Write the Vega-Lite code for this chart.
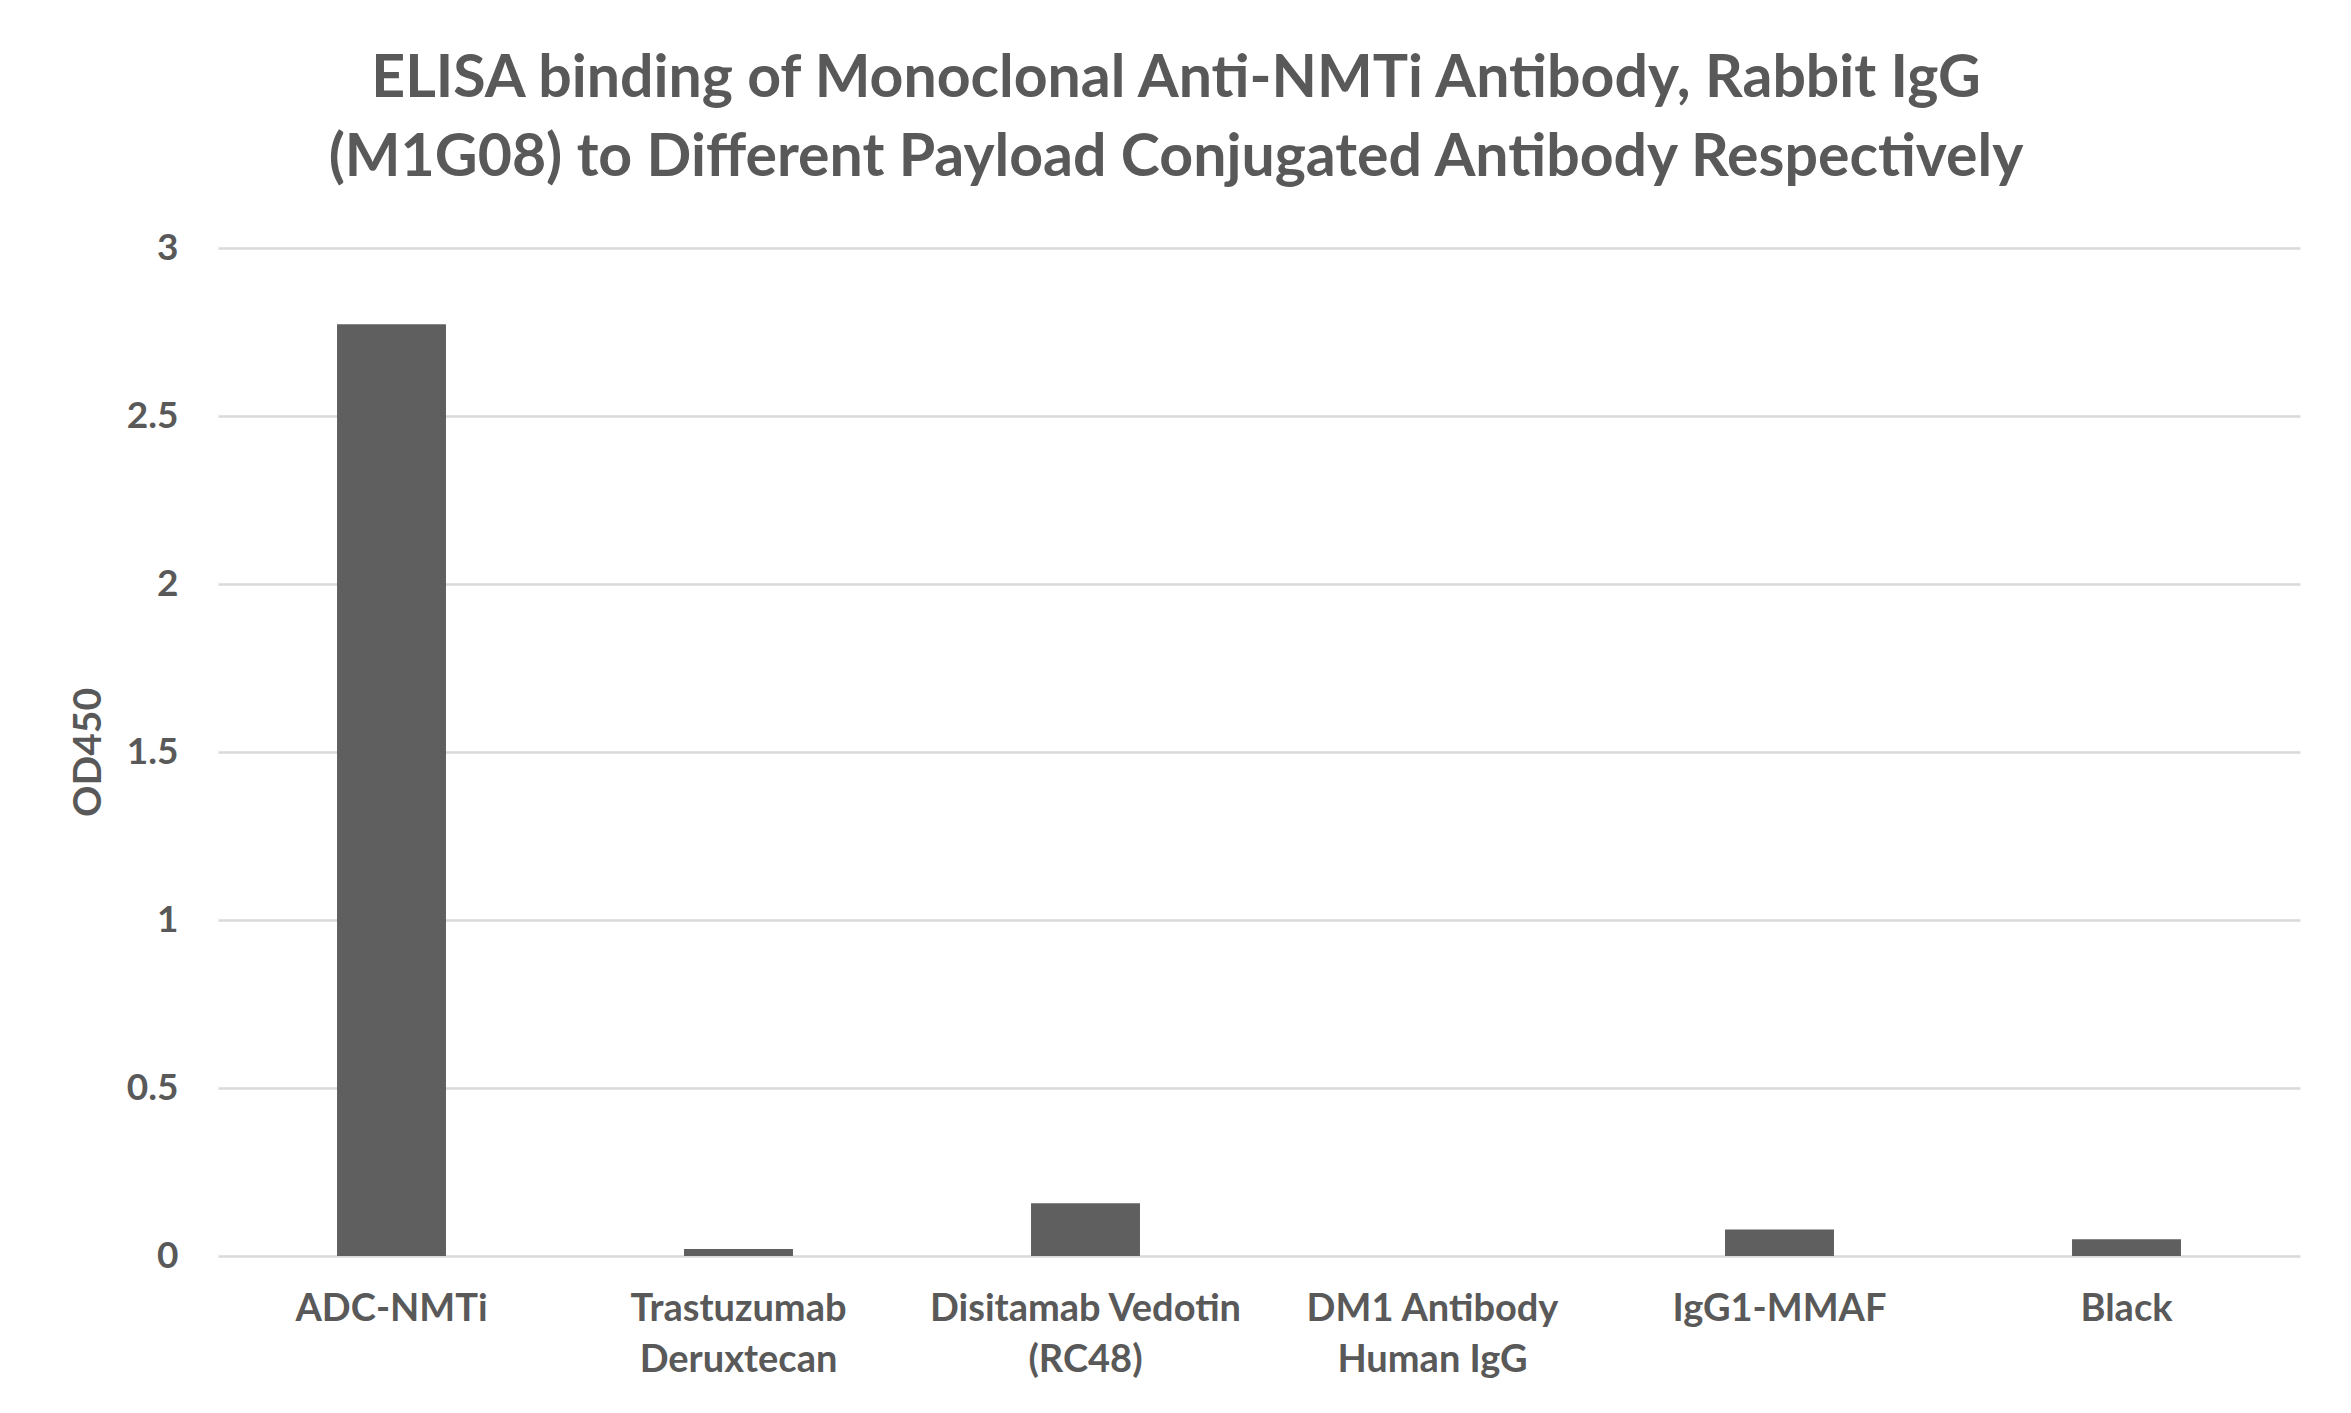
{
  "$schema": "https://vega.github.io/schema/vega-lite/v6.json",
  "width": 2082,
  "height": 1008,
  "autosize": "none",
  "padding": {"left": 218, "top": 248, "right": 51, "bottom": 157},
  "background": "white",
  "title": {
    "text": ["ELISA binding of Monoclonal Anti-NMTi Antibody, Rabbit IgG", "(M1G08) to Different Payload Conjugated Antibody Respectively"],
    "font": "Lato",
    "fontSize": 59,
    "fontWeight": "bold",
    "color": "#595959",
    "lineHeight": 79,
    "anchor": "middle",
    "frame": "group",
    "dx": -83,
    "offset": 41
  },
  "data": {
    "values": [
      {"sample": "ADC-NMTi", "od": 2.773},
      {"sample": "Trastuzumab|Deruxtecan", "od": 0.021},
      {"sample": "Disitamab Vedotin|(RC48)", "od": 0.157},
      {"sample": "DM1 Antibody|Human IgG", "od": 0},
      {"sample": "IgG1-MMAF", "od": 0.079},
      {"sample": "Black", "od": 0.05}
    ]
  },
  "mark": {"type": "bar", "color": "#5f5f5f"},
  "encoding": {
    "x": {
      "field": "sample",
      "type": "nominal",
      "sort": null,
      "scale": {"paddingInner": 0.686, "paddingOuter": 0.343},
      "axis": {
        "title": null,
        "labelExpr": "split(datum.label, '|')",
        "labelAngle": 0,
        "labelFont": "Lato",
        "labelFontSize": 38,
        "labelFontWeight": "bold",
        "labelColor": "#595959",
        "labelPadding": 34,
        "labelLineHeight": 51,
        "labelLimit": 500,
        "labelOverlap": false,
        "labelBound": false,
        "ticks": false,
        "domain": false,
        "grid": false
      }
    },
    "y": {
      "field": "od",
      "type": "quantitative",
      "scale": {"domain": [0, 3], "nice": false},
      "axis": {
        "title": "OD450",
        "titleFont": "Lato",
        "titleFontSize": 39,
        "titleFontWeight": "bold",
        "titleColor": "#595959",
        "titlePadding": 18,
        "values": [0, 0.5, 1, 1.5, 2, 2.5, 3],
        "format": "~g",
        "labelFont": "Lato",
        "labelFontSize": 37,
        "labelFontWeight": "bold",
        "labelColor": "#595959",
        "labelPadding": 40,
        "ticks": false,
        "domain": false,
        "grid": true,
        "gridColor": "#d9d9d9",
        "gridWidth": 2.5
      }
    }
  },
  "config": {"view": {"stroke": null}}
}
